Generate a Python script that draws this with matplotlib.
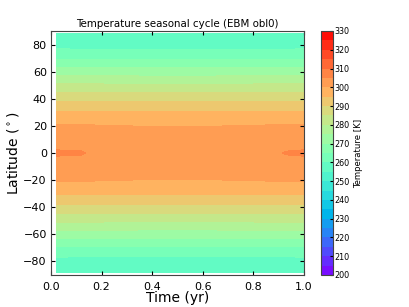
import numpy as np
import matplotlib
matplotlib.use("Agg")
import matplotlib.pyplot as plt

# --- data ---
lat = [-88, -82, -76.6, -69.2, -63, -57, -51, -44.6, -38, -30.8, -26, -21, -16, -10, -4,
       0, 4, 10, 16, 21, 26, 30.8, 38, 44.6, 51, 57, 63, 69.2, 76.6, 82, 88]
temp_base = [256.5, 258.0, 260.0, 265.0, 270.0, 275.0, 280.0, 285.0, 290.0, 295.0, 297.6,
             300.0, 302.3, 303.9, 304.7, 305.0, 304.7, 303.9, 302.3, 300.0, 297.6, 295.0,
             290.0, 285.0, 280.0, 275.0, 270.0, 265.0, 260.0, 258.0, 256.5]
# strength of the seasonal signal at each latitude (reduced away from the tropics)
seasonal_amp = [0.3, 0.3, 0.3, 0.3, 0.3, 0.3, 0.3, 0.3, 0.3, 0.4, 0.6,
                1.0, 1.0, 1.0, 1.0, 1.0, 1.0, 1.0, 1.0, 1.0, 0.6, 0.4,
                0.3, 0.3, 0.3, 0.3, 0.3, 0.3, 0.3, 0.3, 0.3]
time = [0.02, 0.06, 0.12, 0.15, 0.25, 0.35, 0.5, 0.65, 0.75, 0.85, 0.9, 0.93, 0.97, 1.0]
seasonal_anom = [0.17, 0.16, 0.12, -0.1, -0.35, -0.55, -0.65, -0.55, -0.35, -0.15, -0.1,
                 0.1, 0.16, 0.17]
levels = list(range(200, 335, 5))
cbar_ticks = list(range(200, 331, 10))
yticks = [-80, -60, -40, -20, 0, 20, 40, 60, 80]
xticks = [0.0, 0.2, 0.4, 0.6, 0.8, 1.0]

T = (np.array(temp_base)[:, None]
     + np.array(seasonal_amp)[:, None] * np.array(seasonal_anom)[None, :])

fig = plt.figure(figsize=(4.09, 3.07), dpi=100, facecolor="white")
ax = fig.add_axes([51 / 409, 1 - 275 / 307, 253 / 409, 244 / 307])
cf = ax.contourf(time, lat, T, levels=levels, cmap="rainbow")
ax.set_xlim(0, 1)
ax.set_ylim(-90, 90)
ax.set_xticks(xticks)
ax.set_yticks(yticks)
ax.tick_params(direction="in", top=True, right=True, labelsize=8, length=3, pad=3)
ax.tick_params(axis="x", pad=5)
ax.set_xlabel("Time (yr)", fontsize=10, labelpad=-1)
ax.set_ylabel(r"Latitude ($^\circ$)", fontsize=10, labelpad=2)
ax.set_title("Temperature seasonal cycle (EBM obl0)", fontsize=7.4, pad=3)
for s in ax.spines.values():
    s.set_color("#444444")

cax = fig.add_axes([321 / 409, 1 - 275 / 307, 12 / 409, 244 / 307])
cb = fig.colorbar(cf, cax=cax, ticks=cbar_ticks)
cb.ax.tick_params(labelsize=5.8, direction="in", length=2, pad=1)
cb.set_label("Temperature [K]", fontsize=6.1, labelpad=3)
cb.outline.set_edgecolor("#444444")

fig.savefig("out.png", dpi=100, facecolor="white")
